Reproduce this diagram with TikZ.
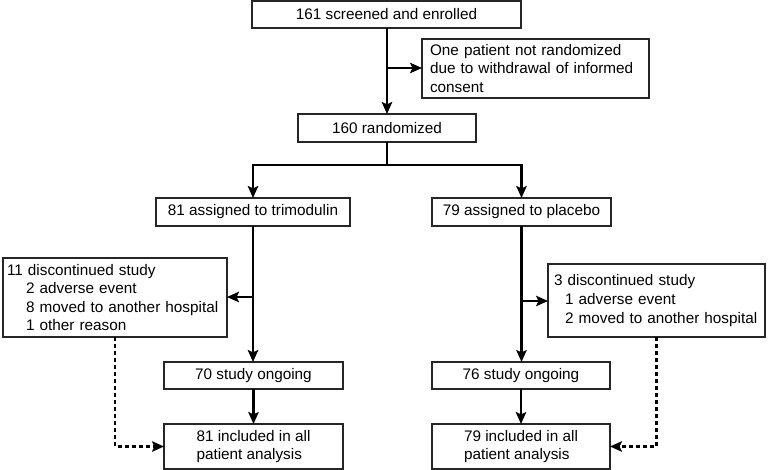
\documentclass[tikz,border=0pt]{standalone}
\usepackage{fontspec}
\setmainfont{Liberation Sans}
\usetikzlibrary{arrows.meta}
\begin{document}
\begin{tikzpicture}[x=1pt,y=-1pt,
  box/.style={draw=black!85, line width=1.1pt, inner sep=0pt, outer sep=0pt,
    font=\fontsize{15.3}{18.6}\selectfont, text=black},
  arr/.style={line width=2.1pt, -{Stealth[length=12pt,width=10.5pt,inset=2.5pt]}},
  darr/.style={line width=2.1pt, dash pattern=on 4pt off 3pt, -{Stealth[length=12pt,width=10.5pt,inset=2.5pt]}},
  ln/.style={line width=2.1pt}
]
\useasboundingbox (0,0) rectangle (768,470);
\node[box, minimum width=269pt, minimum height=27pt] (B1) at (386.5,14.5) {161 screened and enrolled};
\node[box, minimum height=59pt, text width=211pt, inner xsep=8pt, align=left] (EX) at (535.5,68.5)
  {One patient not randomized\\due to withdrawal of informed\\consent};
\node[box, minimum width=178pt, minimum height=28pt] (B2) at (387,128) {160 randomized};
\node[box, minimum width=194pt, minimum height=28pt] (T) at (253,212) {81 assigned to trimodulin};
\node[box, minimum width=179pt, minimum height=28pt] (P) at (521.5,212) {79 assigned to placebo};
\node[box, minimum height=79pt, text width=216pt, inner xsep=4pt, align=left] (LD) at (115,297.5)
  {11 discontinued study\\\hspace*{19pt}2 adverse event\\\hspace*{19pt}8 moved to another hospital\\\hspace*{19pt}1 other reason};
\node[box, minimum height=73pt, text width=205pt, inner xsep=6pt, align=left] (RD) at (656.5,300.5)
  {3 discontinued study\\\hspace*{11pt}1 adverse event\\\hspace*{11pt}2 moved to another hospital};
\node[box, minimum width=179pt, minimum height=27pt] (TO) at (253.5,375.5) {70 study ongoing};
\node[box, minimum width=178pt, minimum height=27pt] (PO) at (521,375.5) {76 study ongoing};
\node[box, minimum width=179pt, minimum height=45pt, align=left] (TI) at (253.5,446.5) {81 included in all\\patient analysis};
\node[box, minimum width=178pt, minimum height=45pt, align=left] (PI) at (521,446.5) {79 included in all\\patient analysis};
\coordinate (top) at (387,28);
\coordinate (j1) at (387,68);
\coordinate (split) at (387,165);
\coordinate (j2) at (253,297);
\coordinate (j3) at (521.5,301);
\draw[arr] (top) -- (B2.north -| top);
\draw[arr] (j1) -- (EX.west |- j1);
\draw[ln] (B2.south -| split) -- (split);
\draw[ln, line cap=rect] (T.north |- split) -- (P.north |- split);
\draw[arr] (T.north |- split) -- (T.north);
\draw[arr] (P.north |- split) -- (P.north);
\draw[arr] (T.south) -- (TO.north -| T.south);
\draw[arr] (j2) -- (LD.east |- j2);
\draw[arr] (P.south) -- (PO.north -| P.south);
\draw[arr] (j3) -- (RD.west |- j3);
\draw[arr] (TO.south) -- (TI.north);
\draw[arr] (PO.south) -- (PI.north);
\draw[darr] (LD.south) |- (TI.west);
\draw[darr] (RD.south) |- (PI.east);
\end{tikzpicture}
\end{document}
